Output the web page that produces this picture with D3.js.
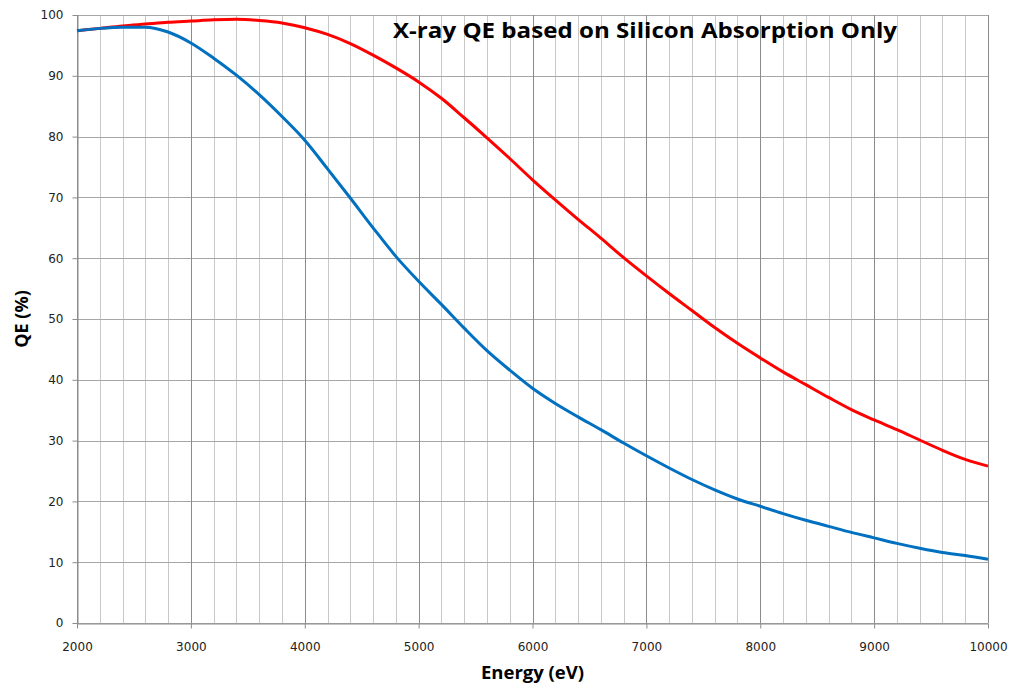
<!DOCTYPE html>
<html>
<head>
<meta charset="utf-8">
<script src="https://cdn.jsdelivr.net/npm/d3@7"></script>
<style>
  body { margin: 0; background: #fff; }
  svg { display: block; }
</style>
</head>
<body>
<div id="chartDiv"></div>
<script>
// energy (eV) sampled every 200 eV
var energy = [2000, 2200, 2400, 2600, 2800, 3000, 3200, 3400, 3600, 3800,
	4000, 4200, 4400, 4600, 4800, 5000, 5200, 5400, 5600, 5800,
	6000, 6200, 6400, 6600, 6800, 7000, 7200, 7400, 7600, 7800,
	8000, 8200, 8400, 8600, 8800, 9000, 9200, 9400, 9600, 9800, 10000];

// red curve
var qeRed = [97.4, 97.8, 98.2, 98.5, 98.8, 99.0, 99.2, 99.3, 99.1, 98.7,
	97.9, 96.8, 95.3, 93.4, 91.3, 89.0, 86.3, 83.1, 79.8, 76.4,
	72.9, 69.6, 66.4, 63.3, 60.1, 57.1, 54.2, 51.4, 48.6, 46.0,
	43.6, 41.3, 39.2, 37.1, 35.1, 33.4, 31.8, 30.1, 28.4, 26.9, 25.8];

// blue curve
var qeBlue = [97.4, 97.8, 98.0, 98.0, 97.2, 95.4, 92.9, 90.1, 86.9, 83.3,
	79.4, 74.7, 69.9, 65.0, 60.3, 56.2, 52.4, 48.5, 44.8, 41.6,
	38.6, 36.1, 33.9, 31.8, 29.6, 27.5, 25.5, 23.6, 21.9, 20.4,
	19.2, 18.0, 16.9, 15.9, 14.9, 14.0, 13.1, 12.3, 11.6, 11.1, 10.5];

var xTicks = [2000, 3000, 4000, 5000, 6000, 7000, 8000, 9000, 10000];
var yTicks = [0, 10, 20, 30, 40, 50, 60, 70, 80, 90, 100];

var width = 1010, height = 685;
var margin = {top: 15, right: 22, bottom: 62, left: 77};

var svg = d3.select("#chartDiv").append("svg")
	.attr("width", width)
	.attr("height", height);

var x = d3.scaleLinear().domain([2000, 10000]).range([margin.left, width - margin.right]);
var y = d3.scaleLinear().domain([0, 100]).range([height - margin.bottom, margin.top]);

// minor vertical grid every 200 eV
var minor = d3.range(2000, 10001, 200).filter(function(d) { return d % 1000 !== 0; });
svg.append("g").selectAll("line")
	.data(minor).join("line")
	.attr("x1", function(d) { return Math.round(x(d)) + 0.5; })
	.attr("x2", function(d) { return Math.round(x(d)) + 0.5; })
	.attr("y1", y(0)).attr("y2", y(100))
	.attr("stroke", "#c8c8c8").attr("stroke-width", 1);

// horizontal grid
svg.append("g").selectAll("line")
	.data(yTicks).join("line")
	.attr("x1", x(2000)).attr("x2", x(10000))
	.attr("y1", function(d) { return Math.round(y(d)) + 0.5; })
	.attr("y2", function(d) { return Math.round(y(d)) + 0.5; })
	.attr("stroke", "#a6a6a6").attr("stroke-width", 1);

// major vertical grid
svg.append("g").selectAll("line")
	.data(xTicks).join("line")
	.attr("x1", function(d) { return Math.round(x(d)) + 0.5; })
	.attr("x2", function(d) { return Math.round(x(d)) + 0.5; })
	.attr("y1", y(0)).attr("y2", y(100))
	.attr("stroke", "#8c8c8c").attr("stroke-width", 1);

// axes
var xAxis = d3.axisBottom(x).tickValues(xTicks).tickSize(5).tickSizeOuter(0).tickPadding(14)
	.tickFormat(d3.format("d"));
var yAxis = d3.axisLeft(y).tickValues(yTicks).tickSize(5).tickSizeOuter(0).tickPadding(9);

var gx = svg.append("g").attr("transform", "translate(0," + (Math.round(y(0)) + 0.5) + ")").call(xAxis);
var gy = svg.append("g").attr("transform", "translate(" + (Math.round(x(2000)) + 0.5) + ",0)").call(yAxis);

[gx, gy].forEach(function(g) {
	g.select(".domain").attr("stroke", "#8c8c8c");
	g.selectAll(".tick line").attr("stroke", "#8c8c8c");
	g.selectAll(".tick text")
		.attr("fill", "#222")
		.style("font-family", "'DejaVu Sans', Verdana, sans-serif")
		.style("font-size", "12px");
});

// curves
var line = d3.line()
	.x(function(d, i) { return x(energy[i]); })
	.y(function(d) { return y(d); })
	.curve(d3.curveMonotoneX);

svg.append("path").datum(qeRed)
	.attr("d", line)
	.attr("fill", "none")
	.attr("stroke", "#ff0000")
	.attr("stroke-width", 3)
	.attr("stroke-linejoin", "round");

svg.append("path").datum(qeBlue)
	.attr("d", line)
	.attr("fill", "none")
	.attr("stroke", "#0070c0")
	.attr("stroke-width", 3)
	.attr("stroke-linejoin", "round");

// title
svg.append("text")
	.attr("x", 393).attr("y", 38)
	.attr("textLength", 504)
	.attr("lengthAdjust", "spacingAndGlyphs")
	.style("font-family", "'Open Sans', 'Liberation Sans', sans-serif")
	.style("font-weight", "bold")
	.style("font-size", "21px")
	.attr("fill", "#000")
	.text("X-ray QE based on Silicon Absorption Only");

// axis titles
svg.append("text")
	.attr("x", (x(2000) + x(10000)) / 2).attr("y", 679)
	.attr("text-anchor", "middle")
	.style("font-family", "'Open Sans', 'Liberation Sans', sans-serif")
	.style("font-weight", "bold")
	.style("font-size", "18.5px")
	.text("Energy (eV)");

svg.append("text")
	.attr("transform", "translate(28," + y(50) + ") rotate(-90)")
	.attr("text-anchor", "middle")
	.style("font-family", "'Open Sans', 'Liberation Sans', sans-serif")
	.style("font-weight", "bold")
	.style("font-size", "18px")
	.text("QE (%)");
</script>
</body>
</html>
